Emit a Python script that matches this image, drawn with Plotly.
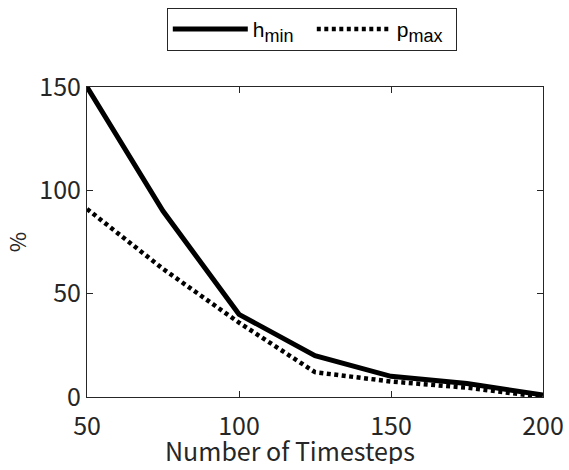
import plotly.graph_objects as go

# Number of timesteps and the two error measures (%)
timesteps = [50, 75, 100, 125, 150, 175, 200]
h_min = [150, 90, 40, 20, 10, 6.5, 1]
p_max = [91, 62, 36, 12, 7.5, 4.5, 0]

x_ticks = [50, 100, 150, 200]
y_ticks = [0, 50, 100, 150]

AX = "#262626"
GOTHIC = "Noto Sans CJK JP, Liberation Sans, sans-serif"
TICK_FONT = dict(family=GOTHIC, size=25, color=AX)
SUB = '<sub><span style="font-size:18px">{}</span></sub>'

fig = go.Figure()
fig.add_trace(go.Scatter(
    x=timesteps, y=h_min, mode="lines", name="h" + SUB.format("min"),
    line=dict(color="black", width=5),
))
fig.add_trace(go.Scatter(
    x=timesteps, y=p_max, mode="lines", name="p" + SUB.format("max"),
    line=dict(color="black", width=4.5, dash="4px,3.5px"),
))

fig.add_annotation(
    text="Number of Timesteps", xref="paper", yref="paper",
    x=0.445, y=0, xanchor="center", yanchor="top", yshift=-37,
    height=28, valign="middle",
    showarrow=False, font=TICK_FONT,
)

fig.update_layout(
    width=569, height=470,
    margin=dict(l=87, r=26, t=87, b=73, autoexpand=False),
    paper_bgcolor="white", plot_bgcolor="white",
    showlegend=True,
    legend=dict(
        orientation="h", x=0.175, xanchor="left", y=1.255, yanchor="top",
        bordercolor=AX, borderwidth=1, bgcolor="white",
        font=dict(family="Liberation Sans, Arial, sans-serif", size=21, color="black"),
        itemwidth=75, entrywidth=54, tracegroupgap=0,
    ),
    xaxis=dict(
        range=[50, 200], tickvals=x_ticks, ticktext=[str(v) for v in x_ticks],
        showgrid=False, zeroline=False,
        showline=True, linecolor=AX, linewidth=1, mirror="ticks",
        ticks="inside", ticklen=6, tickcolor=AX, tickwidth=1,
        tickfont=TICK_FONT, ticklabelstandoff=7,
    ),
    yaxis=dict(
        range=[0, 150], tickvals=y_ticks, ticktext=[str(v) for v in y_ticks],
        showgrid=False, zeroline=False,
        showline=True, linecolor=AX, linewidth=1, mirror="ticks",
        ticks="inside", ticklen=6, tickcolor=AX, tickwidth=1,
        tickfont=TICK_FONT, ticklabelstandoff=0,
        title=dict(text="%", font=dict(family=GOTHIC, size=22, color=AX), standoff=10),
    ),
)

fig.write_html("out.html")
